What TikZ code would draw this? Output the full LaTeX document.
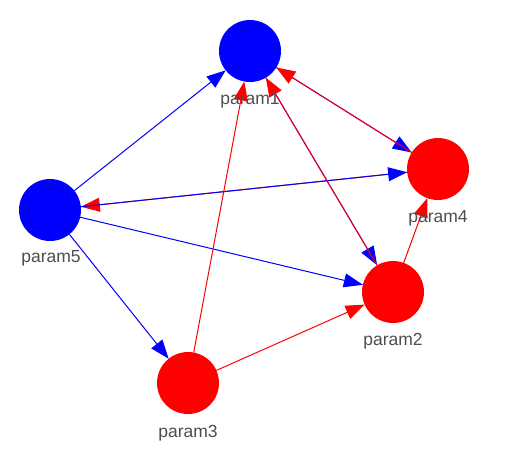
\documentclass[tikz,border=0pt]{standalone}
\usepackage{fontspec}
\setmainfont{Liberation Sans}
\usetikzlibrary{arrows.meta}
\definecolor{lbl}{HTML}{4D4D4D}
\tikzset{
  bnode/.style={circle,fill=blue,minimum size=62pt,inner sep=0pt,outer sep=0pt},
  rnode/.style={circle,fill=red,minimum size=62pt,inner sep=0pt,outer sep=0pt},
  lab/.style={text=lbl,font=\fontsize{17.5pt}{20pt}\selectfont,anchor=base,inner sep=0pt},
  be/.style={draw=blue,line width=1pt,-{Triangle[length=19pt,width=14pt]},blue},
  re/.style={draw=red,line width=1pt,-{Triangle[length=19pt,width=14pt]},red}
}
\begin{document}
\begin{tikzpicture}[x=1pt,y=-1pt]
\useasboundingbox (0,0) rectangle (515,459);
\node[bnode] (p1) at (250,51) {};
\node[rnode] (p4) at (438,169) {};
\node[bnode] (p5) at (50,210) {};
\node[rnode] (p2) at (393,292) {};
\node[rnode] (p3) at (188,383) {};
\draw[be] (p5) -- (p1);
\draw[be] (p5) -- (p2);
\draw[be] (p5) -- (p3);
\draw[re] (p4) -- (p5);
\draw[be] (p5) -- (p4);
\draw[be] (p1) -- (p4);
\draw[re] (p4) -- (p1);
\draw[be] (p1) -- (p2);
\draw[re] (p2) -- (p1);
\draw[re] (p3) -- (p1);
\draw[re] (p3) -- (p2);
\draw[re] (p2) -- (p4);
\node[lab] (l1) at (250,104) {param1};
\node[lab] (l4) at (438,222) {param4};
\node[lab] (l5) at (51,262) {param5};
\node[lab] (l2) at (393,345) {param2};
\node[lab] (l3) at (188,437) {param3};
\end{tikzpicture}
\end{document}
